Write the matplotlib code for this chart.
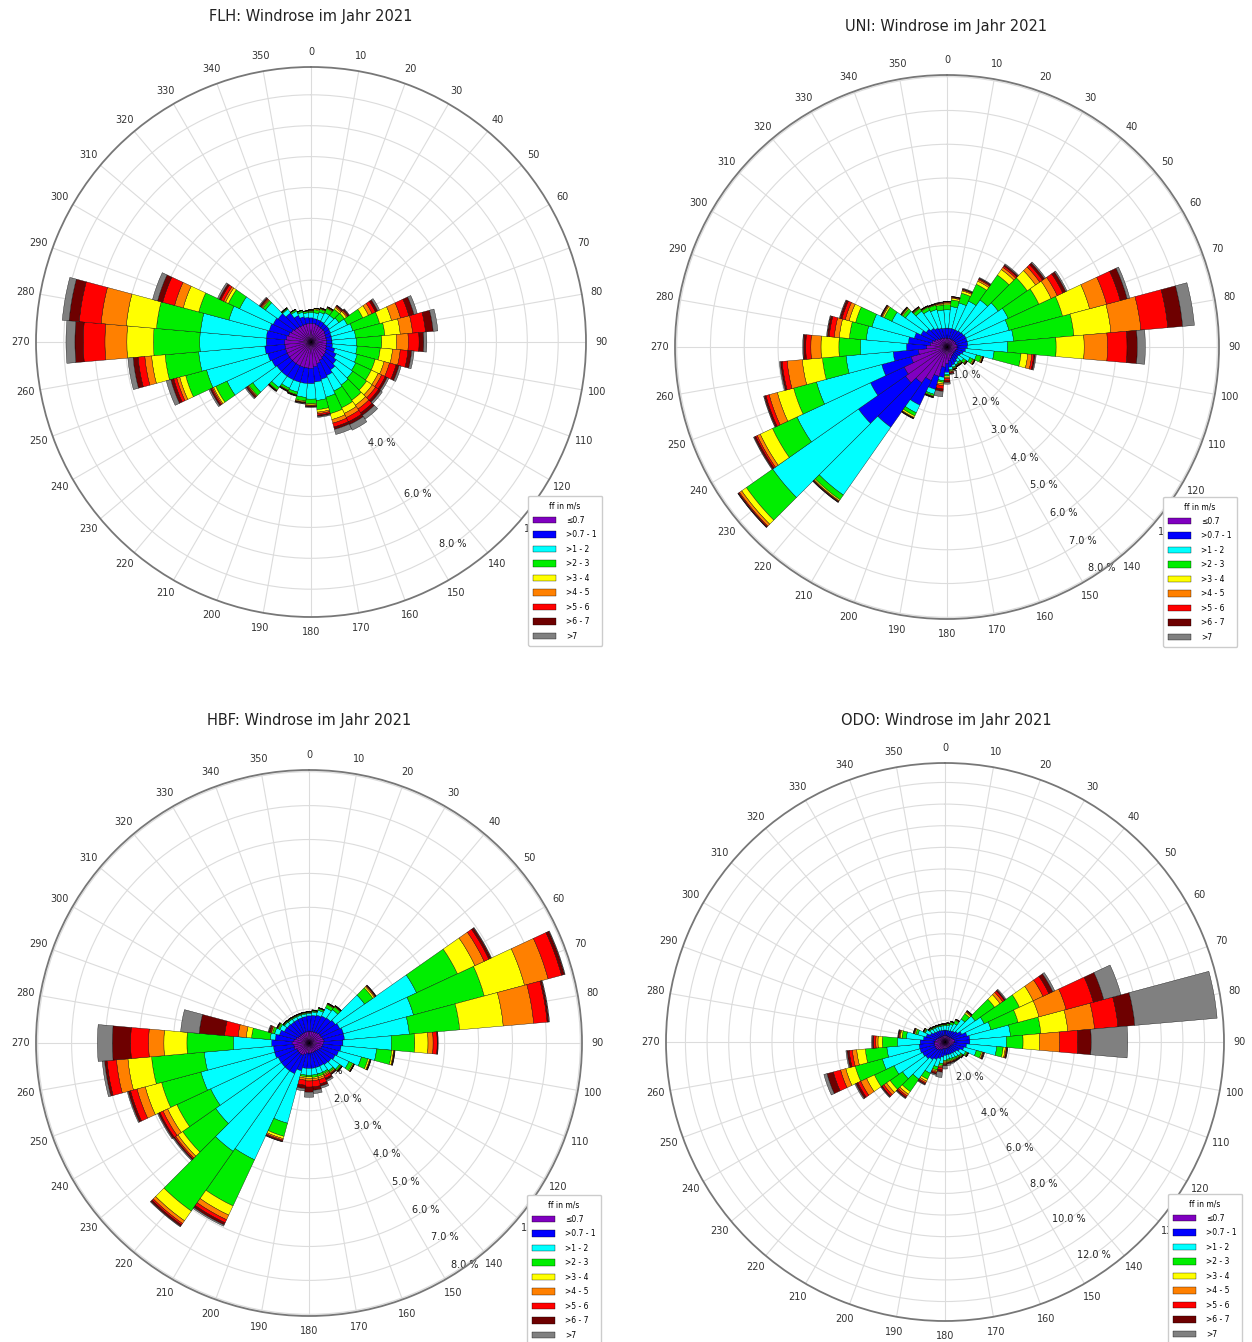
import numpy as np
import matplotlib
matplotlib.use("Agg")
import matplotlib.pyplot as plt

# ---------------- data ----------------
directions = list(range(0, 360, 10))
class_labels = ["≤0.7", ">0.7 - 1", ">1 - 2", ">2 - 3", ">3 - 4",
                ">4 - 5", ">5 - 6", ">6 - 7", ">7"]
class_colors = ["#8000c0", "#0000ff", "#00ffff", "#00ee00", "#ffff00",
                "#ff8000", "#ff0000", "#6e0000", "#808080"]

# cumulative frequency (%) up to each speed class, one row per direction
flh_cum = [
    [0.6, 0.78, 0.95, 1.0, 1.02, 1.03, 1.04, 1.05, 1.05],
    [0.6, 0.76, 0.95, 1.05, 1.08, 1.1, 1.1, 1.1, 1.1],
    [0.58, 0.75, 1.0, 1.1, 1.12, 1.13, 1.14, 1.15, 1.15],
    [0.56, 0.74, 1.05, 1.2, 1.22, 1.24, 1.25, 1.26, 1.26],
    [0.55, 0.72, 1.05, 1.3, 1.36, 1.4, 1.43, 1.45, 1.46],
    [0.55, 0.72, 1.1, 1.32, 1.4, 1.44, 1.47, 1.5, 1.52],
    [0.52, 0.7, 1.3, 1.85, 2.05, 2.18, 2.3, 2.38, 2.45],
    [0.5, 0.68, 1.4, 2.3, 2.7, 3.0, 3.28, 3.45, 3.56],
    [0.5, 0.68, 1.45, 2.4, 2.9, 3.3, 3.72, 3.97, 4.12],
    [0.5, 0.68, 1.48, 2.29, 2.77, 3.15, 3.5, 3.65, 3.75],
    [0.5, 0.7, 1.5, 2.25, 2.65, 2.9, 3.15, 3.27, 3.35],
    [0.52, 0.8, 1.55, 2.15, 2.45, 2.63, 2.85, 2.95, 3.02],
    [0.55, 0.9, 1.6, 2.15, 2.4, 2.52, 2.65, 2.72, 2.78],
    [0.58, 1.0, 1.65, 2.2, 2.42, 2.55, 2.67, 2.75, 2.82],
    [0.6, 1.1, 1.7, 2.3, 2.5, 2.65, 2.8, 2.9, 3.05],
    [0.65, 1.2, 1.75, 2.35, 2.55, 2.7, 2.85, 2.95, 3.15],
    [0.72, 1.25, 1.85, 2.4, 2.6, 2.72, 2.85, 2.93, 3.1],
    [0.8, 1.3, 1.9, 2.2, 2.28, 2.33, 2.38, 2.42, 2.45],
    [0.85, 1.35, 1.85, 2.0, 2.04, 2.06, 2.08, 2.1, 2.12],
    [0.85, 1.35, 1.8, 1.92, 1.95, 1.97, 1.98, 2.0, 2.02],
    [0.85, 1.35, 1.68, 1.76, 1.78, 1.79, 1.8, 1.81, 1.82],
    [0.85, 1.35, 1.65, 1.72, 1.74, 1.75, 1.76, 1.77, 1.78],
    [0.85, 1.35, 1.8, 1.9, 1.92, 1.93, 1.94, 1.95, 1.96],
    [0.85, 1.35, 2.3, 2.45, 2.48, 2.5, 2.53, 2.56, 2.6],
    [0.85, 1.4, 3.0, 3.4, 3.48, 3.52, 3.56, 3.6, 3.65],
    [0.85, 1.45, 3.5, 4.2, 4.4, 4.5, 4.6, 4.7, 4.85],
    [0.85, 1.5, 3.65, 4.74, 5.18, 5.4, 5.62, 5.78, 5.95],
    [0.85, 1.45, 3.6, 5.1, 5.96, 6.67, 7.37, 7.64, 7.93],
    [0.8, 1.45, 3.59, 5.02, 6.0, 6.82, 7.53, 7.86, 8.08],
    [0.75, 1.4, 2.75, 3.76, 4.28, 4.57, 4.97, 5.14, 5.31],
    [0.7, 1.35, 2.55, 2.95, 3.05, 3.12, 3.22, 3.28, 3.34],
    [0.65, 1.3, 1.8, 1.9, 1.93, 1.96, 1.99, 2.02, 2.05],
    [0.62, 1.15, 1.3, 1.33, 1.34, 1.35, 1.35, 1.36, 1.36],
    [0.6, 0.95, 1.1, 1.15, 1.16, 1.17, 1.17, 1.17, 1.17],
    [0.6, 0.85, 1.0, 1.05, 1.06, 1.07, 1.07, 1.07, 1.07],
    [0.6, 0.8, 0.95, 1.0, 1.01, 1.02, 1.02, 1.02, 1.02],
]

uni_cum = [
    [0.26, 0.56, 1.1, 1.25, 1.3, 1.32, 1.34, 1.35, 1.35],
    [0.26, 0.56, 1.2, 1.4, 1.45, 1.47, 1.49, 1.5, 1.5],
    [0.26, 0.56, 1.35, 1.65, 1.72, 1.75, 1.77, 1.78, 1.8],
    [0.26, 0.56, 1.5, 2.05, 2.15, 2.2, 2.23, 2.25, 2.27],
    [0.26, 0.58, 1.7, 2.6, 2.8, 2.88, 2.93, 2.97, 3.0],
    [0.27, 0.6, 1.85, 2.9, 3.2, 3.35, 3.45, 3.52, 3.56],
    [0.28, 0.62, 2.0, 3.0, 3.4, 3.6, 3.78, 3.88, 3.92],
    [0.28, 0.62, 1.9, 3.54, 4.37, 4.89, 5.31, 5.52, 5.6],
    [0.3, 0.62, 1.98, 3.77, 4.87, 5.76, 6.56, 7.0, 7.35],
    [0.3, 0.6, 1.8, 3.23, 4.06, 4.75, 5.33, 5.63, 5.87],
    [0.3, 0.55, 1.4, 2.2, 2.4, 2.52, 2.58, 2.62, 2.65],
    [0.28, 0.5, 0.9, 1.05, 1.08, 1.1, 1.11, 1.12, 1.12],
    [0.27, 0.45, 0.75, 0.85, 0.88, 0.9, 0.91, 0.92, 0.92],
    [0.26, 0.42, 0.6, 0.68, 0.7, 0.72, 0.73, 0.74, 0.74],
    [0.28, 0.45, 0.55, 0.6, 0.62, 0.63, 0.64, 0.65, 0.65],
    [0.3, 0.5, 0.58, 0.6, 0.62, 0.63, 0.64, 0.65, 0.65],
    [0.35, 0.55, 0.62, 0.65, 0.67, 0.68, 0.69, 0.7, 0.7],
    [0.4, 0.6, 0.68, 0.71, 0.73, 0.75, 0.78, 0.8, 0.82],
    [0.5, 0.75, 0.82, 0.86, 0.9, 0.94, 1.0, 1.05, 1.1],
    [0.6, 0.9, 1.0, 1.05, 1.1, 1.15, 1.25, 1.32, 1.48],
    [0.9, 1.3, 1.45, 1.5, 1.52, 1.53, 1.54, 1.55, 1.56],
    [1.1, 1.9, 2.15, 2.25, 2.3, 2.32, 2.33, 2.34, 2.35],
    [1.3, 2.9, 5.35, 5.52, 5.56, 5.58, 5.6, 5.61, 5.62],
    [1.5, 3.2, 6.3, 7.25, 7.42, 7.5, 7.53, 7.55, 7.56],
    [1.4, 2.5, 4.9, 5.7, 6.1, 6.2, 6.25, 6.3, 6.32],
    [1.1, 2.0, 4.0, 4.7, 5.2, 5.45, 5.55, 5.6, 5.62],
    [0.85, 1.6, 3.0, 3.7, 4.3, 4.75, 4.9, 4.95, 4.98],
    [0.6, 1.2, 2.56, 3.2, 3.73, 4.03, 4.18, 4.25, 4.27],
    [0.5, 1.15, 2.4, 2.9, 3.2, 3.35, 3.5, 3.56, 3.58],
    [0.45, 1.0, 2.3, 2.8, 3.0, 3.12, 3.22, 3.28, 3.3],
    [0.4, 0.85, 1.8, 2.05, 2.1, 2.13, 2.15, 2.16, 2.17],
    [0.35, 0.75, 1.5, 1.6, 1.63, 1.65, 1.66, 1.67, 1.68],
    [0.3, 0.68, 1.3, 1.4, 1.42, 1.44, 1.45, 1.46, 1.46],
    [0.3, 0.62, 1.2, 1.3, 1.32, 1.33, 1.34, 1.35, 1.35],
    [0.28, 0.58, 1.15, 1.28, 1.3, 1.31, 1.32, 1.33, 1.33],
    [0.27, 0.56, 1.1, 1.25, 1.28, 1.3, 1.32, 1.33, 1.34],
]

hbf_cum = [
    [0.35, 0.8, 0.88, 0.9, 0.91, 0.92, 0.92, 0.93, 0.93],
    [0.35, 0.82, 0.92, 0.95, 0.96, 0.97, 0.97, 0.98, 0.98],
    [0.35, 0.85, 1.0, 1.05, 1.06, 1.07, 1.08, 1.08, 1.08],
    [0.36, 0.88, 1.15, 1.25, 1.27, 1.28, 1.29, 1.3, 1.3],
    [0.37, 0.9, 1.2, 1.3, 1.32, 1.33, 1.34, 1.35, 1.35],
    [0.4, 0.95, 2.0, 2.3, 2.35, 2.38, 2.4, 2.41, 2.42],
    [0.4, 1.0, 3.5, 4.83, 5.4, 5.7, 5.85, 5.92, 5.94],
    [0.42, 1.05, 3.19, 5.35, 6.58, 7.3, 7.71, 7.8, 7.82],
    [0.45, 1.05, 2.97, 4.46, 5.75, 6.65, 7.05, 7.1, 7.12],
    [0.42, 1.0, 2.43, 3.12, 3.51, 3.66, 3.78, 3.8, 3.81],
    [0.4, 0.95, 2.0, 2.45, 2.5, 2.52, 2.53, 2.54, 2.55],
    [0.38, 0.9, 1.6, 1.8, 1.85, 1.87, 1.88, 1.89, 1.9],
    [0.35, 0.85, 1.3, 1.42, 1.45, 1.46, 1.47, 1.48, 1.48],
    [0.32, 0.8, 1.1, 1.15, 1.17, 1.18, 1.19, 1.2, 1.2],
    [0.3, 0.78, 1.0, 1.05, 1.08, 1.1, 1.12, 1.13, 1.14],
    [0.3, 0.75, 0.95, 1.0, 1.03, 1.07, 1.15, 1.2, 1.25],
    [0.3, 0.75, 0.95, 1.02, 1.06, 1.12, 1.25, 1.32, 1.38],
    [0.3, 0.75, 0.95, 1.02, 1.06, 1.12, 1.3, 1.4, 1.5],
    [0.3, 0.75, 0.95, 1.0, 1.05, 1.12, 1.3, 1.45, 1.6],
    [0.3, 0.75, 0.95, 1.0, 1.04, 1.1, 1.25, 1.35, 1.42],
    [0.35, 0.85, 2.45, 2.85, 2.92, 2.96, 2.99, 3.01, 3.02],
    [0.4, 1.0, 3.8, 5.3, 5.6, 5.75, 5.85, 5.92, 5.96],
    [0.4, 1.0, 3.9, 6.05, 6.4, 6.5, 6.55, 6.6, 6.62],
    [0.4, 1.0, 3.36, 4.55, 4.72, 4.8, 4.84, 4.87, 4.9],
    [0.4, 1.0, 3.2, 4.3, 4.6, 4.75, 4.85, 4.9, 4.93],
    [0.45, 1.05, 3.3, 4.5, 5.0, 5.25, 5.45, 5.52, 5.55],
    [0.45, 1.05, 3.1, 4.66, 5.36, 5.7, 5.98, 6.05, 6.12],
    [0.5, 1.1, 2.23, 3.6, 4.28, 4.73, 5.26, 5.8, 6.24],
    [0.45, 1.0, 1.15, 1.7, 1.86, 2.1, 2.5, 3.25, 3.8],
    [0.4, 0.9, 1.05, 1.12, 1.15, 1.17, 1.2, 1.23, 1.25],
    [0.35, 0.8, 0.95, 1.0, 1.02, 1.03, 1.04, 1.05, 1.05],
    [0.33, 0.78, 0.88, 0.91, 0.92, 0.93, 0.93, 0.94, 0.94],
    [0.33, 0.76, 0.86, 0.89, 0.9, 0.91, 0.91, 0.92, 0.92],
    [0.33, 0.76, 0.85, 0.88, 0.89, 0.9, 0.9, 0.91, 0.91],
    [0.33, 0.77, 0.85, 0.88, 0.89, 0.9, 0.9, 0.91, 0.91],
    [0.34, 0.78, 0.86, 0.89, 0.9, 0.91, 0.91, 0.92, 0.92],
]

odo_cum = [
    [0.3, 0.55, 0.75, 0.8, 0.82, 0.83, 0.84, 0.85, 0.85],
    [0.3, 0.55, 0.78, 0.85, 0.87, 0.88, 0.89, 0.9, 0.9],
    [0.3, 0.55, 0.85, 0.95, 0.97, 0.98, 0.99, 1.0, 1.0],
    [0.3, 0.58, 0.95, 1.1, 1.13, 1.15, 1.16, 1.17, 1.17],
    [0.3, 0.62, 1.3, 1.6, 1.68, 1.72, 1.75, 1.77, 1.78],
    [0.32, 0.7, 1.7, 2.8, 3.1, 3.25, 3.35, 3.4, 3.45],
    [0.35, 0.85, 2.0, 3.8, 4.5, 5.0, 5.3, 5.5, 5.6],
    [0.4, 1.05, 2.2, 3.5, 4.5, 5.8, 7.1, 7.6, 8.42],
    [0.45, 1.15, 3.04, 4.45, 5.7, 6.94, 8.03, 8.81, 12.63],
    [0.45, 1.15, 2.84, 3.61, 4.38, 5.3, 6.14, 6.76, 8.45],
    [0.4, 1.0, 2.4, 2.7, 2.8, 2.85, 2.88, 2.9, 2.92],
    [0.35, 0.9, 1.5, 1.75, 1.8, 1.83, 1.86, 1.88, 1.9],
    [0.32, 0.75, 1.05, 1.12, 1.15, 1.17, 1.19, 1.2, 1.21],
    [0.3, 0.65, 0.9, 0.97, 1.0, 1.02, 1.04, 1.05, 1.06],
    [0.3, 0.62, 0.85, 0.92, 0.95, 0.97, 0.99, 1.0, 1.01],
    [0.3, 0.6, 0.82, 0.9, 0.93, 0.96, 0.98, 1.0, 1.02],
    [0.3, 0.6, 0.8, 0.88, 0.92, 0.95, 0.98, 1.0, 1.05],
    [0.3, 0.6, 0.8, 0.88, 0.92, 0.95, 0.98, 1.02, 1.1],
    [0.3, 0.62, 0.85, 0.9, 0.95, 1.0, 1.05, 1.1, 1.25],
    [0.3, 0.7, 1.0, 1.1, 1.15, 1.2, 1.3, 1.4, 1.65],
    [0.35, 0.8, 1.2, 1.35, 1.4, 1.45, 1.5, 1.55, 1.6],
    [0.4, 0.9, 1.6, 1.9, 2.0, 2.08, 2.13, 2.17, 2.2],
    [0.45, 1.0, 2.1, 2.8, 2.95, 3.05, 3.12, 3.17, 3.2],
    [0.5, 1.1, 2.4, 3.1, 3.3, 3.45, 3.55, 3.6, 3.63],
    [0.5, 1.15, 2.6, 3.6, 4.0, 4.3, 4.45, 4.55, 4.6],
    [0.5, 1.2, 3.0, 4.3, 4.75, 5.0, 5.35, 5.65, 5.8],
    [0.5, 1.2, 2.7, 3.7, 4.1, 4.3, 4.45, 4.55, 4.6],
    [0.5, 1.15, 2.2, 2.9, 3.1, 3.2, 3.3, 3.36, 3.4],
    [0.45, 1.0, 1.8, 2.0, 2.08, 2.12, 2.16, 2.18, 2.2],
    [0.4, 0.9, 1.3, 1.4, 1.45, 1.48, 1.5, 1.52, 1.53],
    [0.35, 0.75, 1.0, 1.05, 1.08, 1.1, 1.11, 1.12, 1.12],
    [0.32, 0.65, 0.85, 0.9, 0.92, 0.93, 0.94, 0.95, 0.95],
    [0.3, 0.6, 0.8, 0.85, 0.87, 0.88, 0.89, 0.9, 0.9],
    [0.3, 0.58, 0.78, 0.82, 0.84, 0.85, 0.86, 0.87, 0.87],
    [0.3, 0.56, 0.76, 0.8, 0.82, 0.83, 0.84, 0.85, 0.85],
    [0.3, 0.55, 0.75, 0.8, 0.82, 0.83, 0.84, 0.85, 0.85],
]

stations = ["FLH", "UNI", "HBF", "ODO"]
station_data = [flh_cum, uni_cum, hbf_cum, odo_cum]
r_max = [8.9, 8.05, 8.05, 12.9]
r_grid = [[1, 2, 3, 4, 5, 6, 7, 8], [1, 2, 3, 4, 5, 6, 7, 8],
          [1, 2, 3, 4, 5, 6, 7, 8], [1, 2, 3, 4, 5, 6, 7, 8, 9, 10, 11, 12]]
r_labels = [[2, 4, 6, 8], [1, 2, 3, 4, 5, 6, 7, 8],
            [1, 2, 3, 4, 5, 6, 7, 8], [2, 4, 6, 8, 10, 12]]

# ---------------- layout (pixels in 1252 x 1342 canvas) ----------------
W, H = 1252, 1342
centers = [(311, 342), (947, 347), (309, 1043), (945, 1042)]
radii = [275, 272, 273, 279]
title_pos = [(311, 16), (946, 26), (309, 720), (946, 720)]
legend_pos = [(528, 646), (1163, 647), (527, 1345), (1168, 1344)]

fig = plt.figure(figsize=(W / 100, H / 100), dpi=100)

for i, name in enumerate(stations):
    cx, cy = centers[i]
    rr = radii[i]
    rect = [(cx - rr) / W, 1 - (cy + rr) / H, 2 * rr / W, 2 * rr / H]
    ax = fig.add_axes(rect, projection="polar")
    ax.set_theta_zero_location("N")
    ax.set_theta_direction(-1)
    ax.set_axisbelow(True)

    cum = np.array(station_data[i])
    theta = np.deg2rad(directions)
    width = np.deg2rad(10)
    handles = []
    for k in range(len(class_labels)):
        bottom = cum[:, k - 1] if k > 0 else np.zeros(len(directions))
        h = ax.bar(theta, cum[:, k] - bottom, width=width, bottom=bottom,
                   color=class_colors[k], edgecolor="black", linewidth=0.25,
                   label=class_labels[k], zorder=2)
        handles.append(h)

    ax.set_ylim(0, r_max[i])
    ax.set_thetagrids(directions, labels=[str(d) for d in directions],
                      fontsize=7, color="#333333")
    ax.set_rgrids(r_grid[i], labels=[""] * len(r_grid[i]))
    for t in r_labels[i]:
        ax.text(np.deg2rad(145), t, f"{t:.1f} %", ha="center", va="center",
                fontsize=7, color="#222222", zorder=1)
    ax.tick_params(axis="x", pad=0.5)
    ax.grid(True, color="#dcdcdc", linewidth=0.8)
    ax.spines["polar"].set_color("#777777")
    ax.spines["polar"].set_linewidth(1.3)

    lx, ly = legend_pos[i]
    leg = ax.legend(handles=handles, labels=class_labels, title="ff in m/s",
                    loc="lower left", bbox_to_anchor=(lx / W, 1 - ly / H),
                    bbox_transform=fig.transFigure, borderaxespad=0.0,
                    fontsize=5.5, title_fontsize=5.5, handlelength=2.9,
                    handleheight=1.0, labelspacing=0.72, borderpad=0.7,
                    handletextpad=1.4, framealpha=1.0)
    leg.get_frame().set_edgecolor("#cccccc")

    tx, ty = title_pos[i]
    fig.text(tx / W, 1 - ty / H, f"{name}: Windrose im Jahr 2021",
             ha="center", va="center", fontsize=10.5, color="#222222")

fig.savefig("out.png", dpi=100)
